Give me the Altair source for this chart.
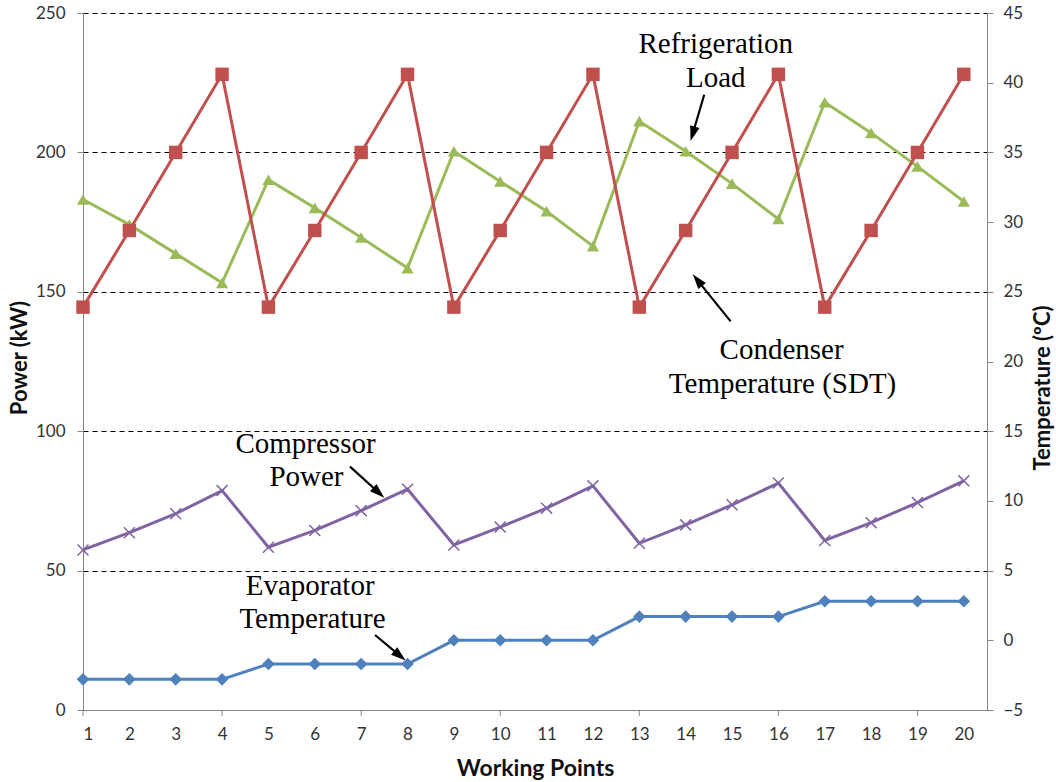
import math
import altair as alt
import pandas as pd

# ---------------- data ----------------
points = list(range(1, 21))
refrigeration_load = [183.1, 174.1, 163.7, 153.2, 190.2, 180.1, 169.5, 158.5, 200.4, 189.6,
                      178.9, 166.4, 211.2, 200.4, 188.8, 176.1, 218.0, 207.0, 195.0, 182.4]
compressor_power = [57.4, 63.6, 70.4, 78.7, 58.4, 64.4, 71.5, 79.2, 59.2, 65.6,
                    72.4, 80.4, 59.8, 66.4, 73.6, 81.4, 60.8, 67.2, 74.4, 82.2]
condenser_temp = [23.9, 29.4, 35.0, 40.6, 23.9, 29.4, 35.0, 40.6, 23.9, 29.4,
                  35.0, 40.6, 23.9, 29.4, 35.0, 40.6, 23.9, 29.4, 35.0, 40.6]
evaporator_temp = [-2.8, -2.8, -2.8, -2.8, -1.7, -1.7, -1.7, -1.7, 0.0, 0.0,
                   0.0, 0.0, 1.7, 1.7, 1.7, 1.7, 2.8, 2.8, 2.8, 2.8]

x_tick_marks = [1, 4, 7, 10, 13, 16, 19]
power_ticks = [0, 50, 100, 150, 200, 250]
temp_ticks = [-5, 0, 5, 10, 15, 20, 25, 30, 35, 40, 45]

ann_text = ["Refrigeration", "Load", "Condenser", "Temperature (SDT)",
            "Compressor", "Power", "Evaporator", "Temperature"]
ann_x = [14.65, 14.65, 16.07, 16.09, 5.80, 5.82, 5.90, 5.95]
ann_y = [235.7, 223.4, 125.9, 113.6, 92.1, 80.2, 41.3, 29.3]

arrow_x1 = [14.40, 14.97, 6.76, 7.30]
arrow_y1 = [220.7, 139.4, 87.3, 26.9]
arrow_x2 = [14.11, 14.16, 7.49, 7.95]
arrow_y2 = [204.3, 156.1, 76.3, 17.9]

# ---------------- layout ----------------
W, H = 904, 697
X_DOMAIN = [1, 20.5]
P_DOMAIN = [0, 250]
T_DOMAIN = [-5, 45]
px_per_x = W / (X_DOMAIN[1] - X_DOMAIN[0])
px_per_p = H / (P_DOMAIN[1] - P_DOMAIN[0])

RED = "#C0504D"
GREEN = "#9BBB59"
PURPLE = "#8064A2"
BLUE = "#4F81BD"
AXIS_GRAY = "#868686"
LABEL_FONT = "Lato"
SERIF = "Liberation Serif"

xscale = alt.Scale(domain=X_DOMAIN, nice=False, zero=False)
pscale = alt.Scale(domain=P_DOMAIN, nice=False, zero=False)
tscale = alt.Scale(domain=T_DOMAIN, nice=False, zero=False)

x_axis = alt.Axis(values=points, title="Working Points", format="d",
                  grid=False, domainColor=AXIS_GRAY, tickColor="transparent",
                  tickSize=6, labelPadding=10, labelFontSize=17, labelFont=LABEL_FONT,
                  labelColor="#333333", titleFont=LABEL_FONT, titleFontSize=23,
                  titleFontWeight="bold", titleColor="#111111",
                  titleX=W / 2, titleY=58, titleBaseline="middle", titleAlign="center")
p_axis = alt.Axis(values=power_ticks, title="Power (kW)", format="d",
                  grid=True, gridColor="#000000", gridDash=[5, 4], gridWidth=1,
                  domainColor=AXIS_GRAY, tickColor=AXIS_GRAY, tickSize=6,
                  labelPadding=12, labelFontSize=17, labelFont=LABEL_FONT,
                  labelColor="#333333", titleFont=LABEL_FONT, titleFontSize=22,
                  titleFontWeight="bold", titleColor="#111111",
                  titleAngle=270, titleX=-64, titleY=H / 2 - 4,
                  titleBaseline="middle", titleAlign="center")
t_axis = alt.Axis(values=temp_ticks, title="Temperature (ºC)", format="d",
                  orient="right", grid=False,
                  domainColor=AXIS_GRAY, tickColor=AXIS_GRAY, tickSize=6,
                  labelPadding=10, labelFontSize=17, labelFont=LABEL_FONT,
                  labelColor="#333333", titleFont=LABEL_FONT, titleFontSize=22,
                  titleFontWeight="bold", titleColor="#111111",
                  titleAngle=270, titleX=55, titleY=H / 2 + 26,
                  titleBaseline="middle", titleAlign="center")


def X(field):
    return alt.X(f"{field}:Q", scale=xscale, axis=x_axis)


def YP(field):
    return alt.Y(f"{field}:Q", scale=pscale, axis=p_axis)


def YT(field):
    return alt.Y(f"{field}:Q", scale=tscale, axis=t_axis)


cross_path = "M-1,-1L1,1M-1,1L1,-1"

# ---------------- power series ----------------
df_load = pd.DataFrame({"x": points, "v": refrigeration_load})
df_comp = pd.DataFrame({"x": points, "v": compressor_power})

load_line = alt.Chart(df_load).mark_line(color=GREEN, strokeWidth=3).encode(x=X("x"), y=YP("v"))
load_pts = alt.Chart(df_load).mark_point(shape="triangle-up", filled=True, color=GREEN,
                                         size=150, opacity=1).encode(x=X("x"), y=YP("v"))
comp_line = alt.Chart(df_comp).mark_line(color=PURPLE, strokeWidth=3).encode(x=X("x"), y=YP("v"))
comp_pts = alt.Chart(df_comp).mark_point(shape=cross_path, filled=False, color=PURPLE,
                                         size=120, strokeWidth=1.5, opacity=1).encode(x=X("x"), y=YP("v"))

# x-axis tick marks (every third working point)
df_ticks = pd.DataFrame({"x": x_tick_marks})
tick_rules = alt.Chart(df_ticks).mark_rule(color=AXIS_GRAY, strokeWidth=1).encode(
    x=X("x"), y=alt.value(H), y2=alt.value(H + 6))

# annotations
df_ann = pd.DataFrame({"t": ann_text, "x": ann_x, "y": ann_y})
ann = alt.Chart(df_ann).mark_text(font=SERIF, fontSize=29, color="#000000",
                                  align="center", baseline="alphabetic").encode(
    x=X("x"), y=YP("y"), text="t:N")

# arrows
head_len_px = 7.5
angles, hx, hy = [], [], []
for x1, y1, x2, y2 in zip(arrow_x1, arrow_y1, arrow_x2, arrow_y2):
    dx = (x2 - x1) * px_per_x
    dy = -(y2 - y1) * px_per_p  # screen coords, down positive
    ang = math.degrees(math.atan2(dx, -dy)) % 360
    L = math.hypot(dx, dy)
    ux, uy = dx / L, dy / L
    cx = x2 - ux * head_len_px / px_per_x
    cy = y2 + uy * head_len_px / px_per_p
    angles.append(ang)
    hx.append(cx)
    hy.append(cy)

df_arrow = pd.DataFrame({"x1": arrow_x1, "y1": arrow_y1, "hx": hx, "hy": hy, "ang": angles})
arrow_shafts = alt.Chart(df_arrow).mark_rule(color="#000000", strokeWidth=2.2).encode(
    x=X("x1"), y=YP("y1"), x2="hx:Q", y2="hy:Q")
head_path = "M0,-1L-0.6,0.85L0.6,0.85Z"
arrow_heads = alt.Chart(df_arrow).mark_point(shape=head_path, filled=True, color="#000000",
                                             size=260, opacity=1).encode(
    x=X("hx"), y=YP("hy"), angle=alt.Angle("ang:Q", scale=None))

power_layer = alt.layer(load_line, comp_line, load_pts, comp_pts, tick_rules, ann,
                        arrow_shafts, arrow_heads)

# ---------------- temperature series ----------------
df_cond = pd.DataFrame({"x": points, "v": condenser_temp})
df_evap = pd.DataFrame({"x": points, "v": evaporator_temp})

cond_line = alt.Chart(df_cond).mark_line(color=RED, strokeWidth=3).encode(x=X("x"), y=YT("v"))
cond_pts = alt.Chart(df_cond).mark_point(shape="square", filled=True, color=RED,
                                         size=180, opacity=1).encode(x=X("x"), y=YT("v"))
evap_line = alt.Chart(df_evap).mark_line(color=BLUE, strokeWidth=3).encode(x=X("x"), y=YT("v"))
evap_pts = alt.Chart(df_evap).mark_point(shape="diamond", filled=True, color=BLUE,
                                         size=160, opacity=1).encode(x=X("x"), y=YT("v"))

temp_layer = alt.layer(cond_line, evap_line, cond_pts, evap_pts)

chart = alt.layer(power_layer, temp_layer).resolve_scale(y="independent").properties(
    width=W, height=H,
    autosize=alt.AutoSizeParams(type="none"),
    padding={"left": 83, "top": 13, "right": 69, "bottom": 72},
    background="white",
).configure_view(stroke=None)

chart.save("out.html", embed_options={"renderer": "svg", "actions": False})
